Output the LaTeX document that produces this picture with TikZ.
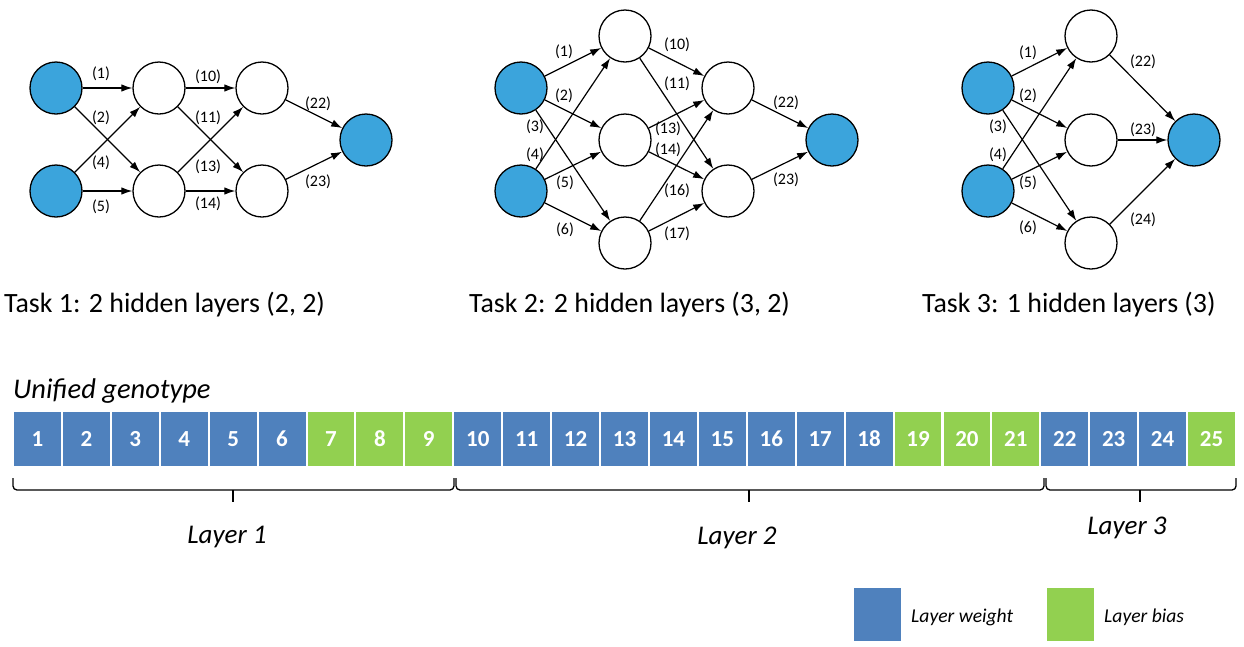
\documentclass[tikz,border=0pt]{standalone}
\usepackage{fontspec}
\setmainfont{Carlito}
\usetikzlibrary{arrows.meta}
\definecolor{inblue}{RGB}{59,164,220}
\definecolor{wblue}{RGB}{79,129,189}
\definecolor{bgreen}{RGB}{146,208,80}
\begin{document}
\begin{tikzpicture}[x=1pt,y=-1pt,
  neuron/.style={circle,draw=black,line width=1.3pt,minimum size=52pt,inner sep=0pt},
  io/.style={neuron,fill=inblue},
  hid/.style={neuron,fill=white},
  conn/.style={-{Latex[length=11pt,width=7.5pt]},line width=1.2pt},
  wlab/.style={font=\fontsize{16}{18}\selectfont,inner sep=0pt},
  title/.style={font=\fontsize{27.9}{32}\selectfont,anchor=base west,inner sep=0pt},
  itext/.style={font=\itshape\fontsize{27}{32}\selectfont,inner sep=0pt},
  cell/.style={minimum width=46.9pt,minimum height=54pt,inner sep=0pt,text=white,
    font=\bfseries\fontsize{23}{26}\selectfont},
  legbox/.style={minimum width=47pt,minimum height=53pt,inner sep=0pt},
  legtext/.style={font=\itshape\fontsize{19.6}{22}\selectfont,anchor=west,inner sep=0pt},
  bracket/.style={line width=1.3pt,rounded corners=4pt}]
\useasboundingbox (0,0) rectangle (1244,646);

% ---------- Task 1: two hidden layers (2, 2) ----------
\node[io]  (t1i1) at (56,88) {};
\node[io]  (t1i2) at (56,191) {};
\node[hid] (t1a1) at (159,88) {};
\node[hid] (t1a2) at (159,191) {};
\node[hid] (t1b1) at (262,88) {};
\node[hid] (t1b2) at (262,191) {};
\node[io]  (t1o)  at (366,140) {};
\draw[conn] (t1i1) -- (t1a1);
\draw[conn] (t1i1) -- (t1a2);
\draw[conn] (t1i2) -- (t1a1);
\draw[conn] (t1i2) -- (t1a2);
\draw[conn] (t1a1) -- (t1b1);
\draw[conn] (t1a1) -- (t1b2);
\draw[conn] (t1a2) -- (t1b1);
\draw[conn] (t1a2) -- (t1b2);
\draw[conn] (t1b1) -- (t1o);
\draw[conn] (t1b2) -- (t1o);
\node[wlab] (t1l1)  at (101,74)  {(1)};
\node[wlab] (t1l2)  at (101,118) {(2)};
\node[wlab] (t1l4)  at (101,163) {(4)};
\node[wlab] (t1l5)  at (101,207) {(5)};
\node[wlab] (t1l10) at (208,77)  {(10)};
\node[wlab] (t1l11) at (208,118) {(11)};
\node[wlab] (t1l13) at (208,167) {(13)};
\node[wlab] (t1l14) at (208,204) {(14)};
\node[wlab] (t1l22) at (318,104) {(22)};
\node[wlab] (t1l23) at (318,182) {(23)};
\node[title] (t1t) at (4,312) {Task 1: 2 hidden layers (2, 2)};

% ---------- Task 2: two hidden layers (3, 2) ----------
\node[io]  (t2i1) at (521,88) {};
\node[io]  (t2i2) at (521,191) {};
\node[hid] (t2a1) at (625,36) {};
\node[hid] (t2a2) at (625,140) {};
\node[hid] (t2a3) at (625,243) {};
\node[hid] (t2b1) at (728,88) {};
\node[hid] (t2b2) at (728,191) {};
\node[io]  (t2o)  at (832,140) {};
\foreach \s in {1,2}{
  \foreach \d in {1,2,3}{
    \draw[conn] (t2i\s) -- (t2a\d);
  }
}
\foreach \s in {1,2,3}{
  \foreach \d in {1,2}{
    \draw[conn] (t2a\s) -- (t2b\d);
  }
}
\draw[conn] (t2b1) -- (t2o);
\draw[conn] (t2b2) -- (t2o);
\node[wlab] (t2l1)  at (564,52)  {(1)};
\node[wlab] (t2l2)  at (564,96)  {(2)};
\node[wlab] (t2l3)  at (535,127) {(3)};
\node[wlab] (t2l4)  at (535,155) {(4)};
\node[wlab] (t2l5)  at (565,183) {(5)};
\node[wlab] (t2l6)  at (565,230) {(6)};
\node[wlab] (t2l10) at (677,45)  {(10)};
\node[wlab] (t2l11) at (677,84)  {(11)};
\node[wlab] (t2l13) at (668,129) {(13)};
\node[wlab] (t2l14) at (668,150) {(14)};
\node[wlab] (t2l16) at (677,191) {(16)};
\node[wlab] (t2l17) at (677,234) {(17)};
\node[wlab] (t2l22) at (786,103) {(22)};
\node[wlab] (t2l23) at (786,180) {(23)};
\node[title] (t2t) at (469,312) {Task 2: 2 hidden layers (3, 2)};

% ---------- Task 3: one hidden layer (3) ----------
\node[io]  (t3i1) at (988,88) {};
\node[io]  (t3i2) at (988,191) {};
\node[hid] (t3a1) at (1091,36) {};
\node[hid] (t3a2) at (1091,140) {};
\node[hid] (t3a3) at (1091,243) {};
\node[io]  (t3o)  at (1194,140) {};
\foreach \s in {1,2}{
  \foreach \d in {1,2,3}{
    \draw[conn] (t3i\s) -- (t3a\d);
  }
}
\foreach \s in {1,2,3}{
  \draw[conn] (t3a\s) -- (t3o);
}
\node[wlab] (t3l1)  at (1028,53)  {(1)};
\node[wlab] (t3l2)  at (1028,96)  {(2)};
\node[wlab] (t3l3)  at (998,127)  {(3)};
\node[wlab] (t3l4)  at (998,155)  {(4)};
\node[wlab] (t3l5)  at (1028,183) {(5)};
\node[wlab] (t3l6)  at (1028,228) {(6)};
\node[wlab] (t3l22) at (1143,62)  {(22)};
\node[wlab] (t3l23) at (1143,130) {(23)};
\node[wlab] (t3l24) at (1143,220) {(24)};
\node[title] (t3t) at (922,312) {Task 3: 1 hidden layers (3)};

% ---------- Unified genotype ----------
\node[itext,anchor=base west,font=\itshape\fontsize{28.5}{32}\selectfont] (ug) at (13,398) {Unified genotype};
\foreach \i/\c in {1/wblue,2/wblue,3/wblue,4/wblue,5/wblue,6/wblue,7/bgreen,8/bgreen,9/bgreen,
  10/wblue,11/wblue,12/wblue,13/wblue,14/wblue,15/wblue,16/wblue,17/wblue,18/wblue,
  19/bgreen,20/bgreen,21/bgreen,22/wblue,23/wblue,24/wblue,25/bgreen}{
  \node[cell,fill=\c] (c\i) at ({13+(\i-0.5)*48.92},439) {\i};
}

% layer brackets
\draw[bracket] (13,478) -- (13,490) -- (454,490) -- (454,478);
\draw[line width=1.3pt] (233,490) -- (233,502);
\draw[bracket] (456,478) -- (456,490) -- (1044,490) -- (1044,478);
\draw[line width=1.3pt] (749,490) -- (749,502);
\draw[bracket] (1046,478) -- (1046,490) -- (1236,490) -- (1236,478);
\draw[line width=1.3pt] (1140,490) -- (1140,502);
\node[itext] (lay1) at (227,537) {Layer 1};
\node[itext] (lay2) at (737,538) {Layer 2};
\node[itext] (lay3) at (1127,528) {Layer 3};

% ---------- legend ----------
\node[legbox,fill=wblue]  (kw) at (877.5,614.5) {};
\node[legtext] (kwt) at (911,617) {Layer weight};
\node[legbox,fill=bgreen] (kb) at (1070.5,614.5) {};
\node[legtext] (kbt) at (1104,617) {Layer bias};
\end{tikzpicture}
\end{document}
